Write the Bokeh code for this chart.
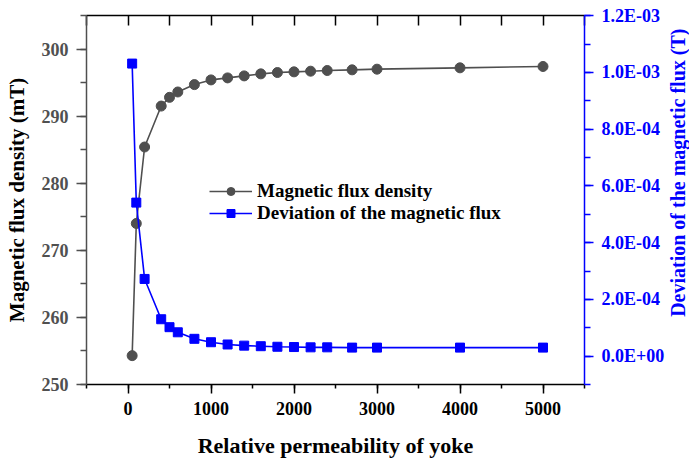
import math
from bokeh.plotting import figure
from bokeh.layouts import row
from bokeh.core.properties import value
from bokeh.models import (LinearAxis, Range1d, CustomJSTickFormatter, Legend, LegendItem,
                          SingleIntervalTicker)
from bokeh.embed import file_html
from bokeh.resources import INLINE

# ---- data ----
permeability = [50, 100, 200, 400, 500, 600, 800, 1000, 1200, 1400, 1600, 1800,
                2000, 2200, 2400, 2700, 3000, 4000, 5000]
flux_density = [254.3, 274.0, 285.4, 291.5, 292.8, 293.6, 294.7, 295.4, 295.7, 296.0,
                296.3, 296.5, 296.6, 296.7, 296.8, 296.9, 297.0, 297.2, 297.4]
flux_deviation = [1.031e-3, 5.41e-4, 2.72e-4, 1.30e-4, 1.02e-4, 0.84e-4, 0.61e-4, 0.49e-4,
                  0.41e-4, 0.37e-4, 0.35e-4, 0.33e-4, 0.32e-4, 0.31e-4, 0.31e-4, 0.30e-4,
                  0.30e-4, 0.30e-4, 0.30e-4]

series_names = ["Magnetic flux density", "Deviation of the magnetic flux"]
x_title = "Relative permeability of yoke"
y_title = "Magnetic flux density (mT)"
y2_title = "Deviation of the magnetic flux (T)"

GRAY = "#4f4f4f"
BLUE = "#0000ff"
FONT = "Liberation Serif"

W, H = 689, 460
TITLE_W = 22  # strip on the right holding the right-axis title

p = figure(width=W - TITLE_W, height=H, output_backend="svg", toolbar_location=None,
           x_range=Range1d(-500, 5500), y_range=Range1d(250, 305),
           min_border_left=86, min_border_right=83, min_border_top=15, min_border_bottom=73,
           x_axis_location=None, y_axis_location=None)
p.grid.visible = False
p.outline_line_color = None
p.background_fill_color = "white"
p.extra_y_ranges = {"dev": Range1d(-1.0e-4, 1.2005e-3)}

# gray series (left axis)
l1 = p.line(permeability, flux_density, line_color=GRAY, line_width=1.6)
s1 = p.scatter(permeability, flux_density, marker="circle", size=10,
               fill_color=GRAY, line_color=GRAY)
# blue series (right axis)
l2 = p.line(permeability, flux_deviation, line_color=BLUE, line_width=1.6, y_range_name="dev")
s2 = p.scatter(permeability, flux_deviation, marker="square", size=9,
               fill_color=BLUE, line_color=BLUE, y_range_name="dev")

# bottom axis
xa = LinearAxis(ticker=SingleIntervalTicker(interval=1000, num_minor_ticks=2))
xa.axis_label = x_title
xa.axis_label_text_font = FONT
xa.axis_label_text_font_style = "bold"
xa.axis_label_text_font_size = "22px"
xa.axis_label_text_color = "black"
xa.axis_label_standoff = 15
xa.major_label_text_font = FONT
xa.major_label_text_font_style = "bold"
xa.major_label_text_font_size = "18px"
xa.major_label_text_color = "black"
xa.major_label_standoff = 8
xa.axis_line_color = "black"
xa.axis_line_width = 1.5
xa.major_tick_line_color = "black"
xa.minor_tick_line_color = "black"
xa.major_tick_line_width = 1.5
xa.minor_tick_line_width = 1.5
xa.major_tick_out = 9
xa.major_tick_in = 0
xa.minor_tick_out = 4
xa.minor_tick_in = 0
p.add_layout(xa, "below")

# top axis (mirror, no labels)
ta = LinearAxis(ticker=SingleIntervalTicker(interval=500, num_minor_ticks=0))
ta.major_label_text_font_size = "0px"
ta.major_label_text_color = None
ta.axis_line_color = "black"
ta.axis_line_width = 1.5
ta.major_tick_line_color = "black"
ta.major_tick_line_width = 1.5
ta.major_tick_in = 10
ta.major_tick_out = 0
ta.minor_tick_line_color = None
ta.major_label_standoff = 0
p.add_layout(ta, "above")

# left axis
ya = LinearAxis(ticker=SingleIntervalTicker(interval=10, num_minor_ticks=2))
ya.axis_label = y_title
ya.axis_label_text_font = FONT
ya.axis_label_text_font_style = "bold"
ya.axis_label_text_font_size = "21px"
ya.axis_label_text_color = "black"
ya.axis_label_standoff = 10
ya.major_label_text_font = FONT
ya.major_label_text_font_style = "bold"
ya.major_label_text_font_size = "18px"
ya.major_label_text_color = "#505050"
ya.major_label_standoff = 8
ya.axis_line_color = GRAY
ya.axis_line_width = 1.5
ya.major_tick_line_color = GRAY
ya.minor_tick_line_color = GRAY
ya.major_tick_line_width = 1.5
ya.minor_tick_line_width = 1.5
ya.major_tick_out = 10
ya.major_tick_in = 0
ya.minor_tick_out = 6
ya.minor_tick_in = 0
p.add_layout(ya, "left")

# right axis
ra = LinearAxis(y_range_name="dev",
                ticker=SingleIntervalTicker(interval=2e-4, num_minor_ticks=2))
ra.formatter = CustomJSTickFormatter(code="""
    let v = Math.abs(tick) < 1e-12 ? 0 : tick;
    const s = v.toExponential(1).toUpperCase();
    const parts = s.split('E');
    const sign = parts[1][0];
    const d = parts[1].slice(1).padStart(2, '0');
    return parts[0] + 'E' + sign + d;
""")
ra.major_label_text_font = FONT
ra.major_label_text_font_style = "bold"
ra.major_label_text_font_size = "18px"
ra.major_label_text_color = BLUE
ra.major_label_standoff = 8
ra.axis_line_color = BLUE
ra.axis_line_width = 1.5
ra.major_tick_line_color = BLUE
ra.minor_tick_line_color = BLUE
ra.major_tick_line_width = 1.5
ra.minor_tick_line_width = 1.5
ra.major_tick_out = 9
ra.major_tick_in = 0
ra.minor_tick_out = 6
ra.minor_tick_in = 0
p.add_layout(ra, "right")

legend = Legend(items=[LegendItem(label=series_names[0], renderers=[l1, s1]),
                       LegendItem(label=series_names[1], renderers=[l2, s2])],
                location=(123, 160))
legend.label_text_font = FONT
legend.label_text_font_style = "bold"
legend.label_text_font_size = "19px"
legend.label_text_color = "black"
legend.border_line_color = None
legend.background_fill_alpha = 0
legend.glyph_width = 43
legend.glyph_height = 20
legend.label_height = 18
legend.spacing = 0
legend.padding = 4
legend.margin = 0
legend.label_standoff = 5
p.add_layout(legend, "center")

# narrow strip holding the right-axis title, reading bottom-to-top
p2 = figure(width=TITLE_W, height=H, output_backend="svg", toolbar_location=None,
            x_range=Range1d(0, TITLE_W), y_range=Range1d(0, H),
            min_border_left=0, min_border_right=0, min_border_top=0, min_border_bottom=0,
            x_axis_location=None, y_axis_location=None)
p2.grid.visible = False
p2.outline_line_color = None
p2.text(x=[10], y=[H - 196], text=[y2_title], angle=math.pi / 2,
        text_align="center", text_baseline="middle", text_font=value(FONT),
        text_font_style="bold", text_font_size="20px", text_color=BLUE)

layout = row(p, p2, spacing=0)
open("out.html", "w").write(file_html(layout, INLINE))
